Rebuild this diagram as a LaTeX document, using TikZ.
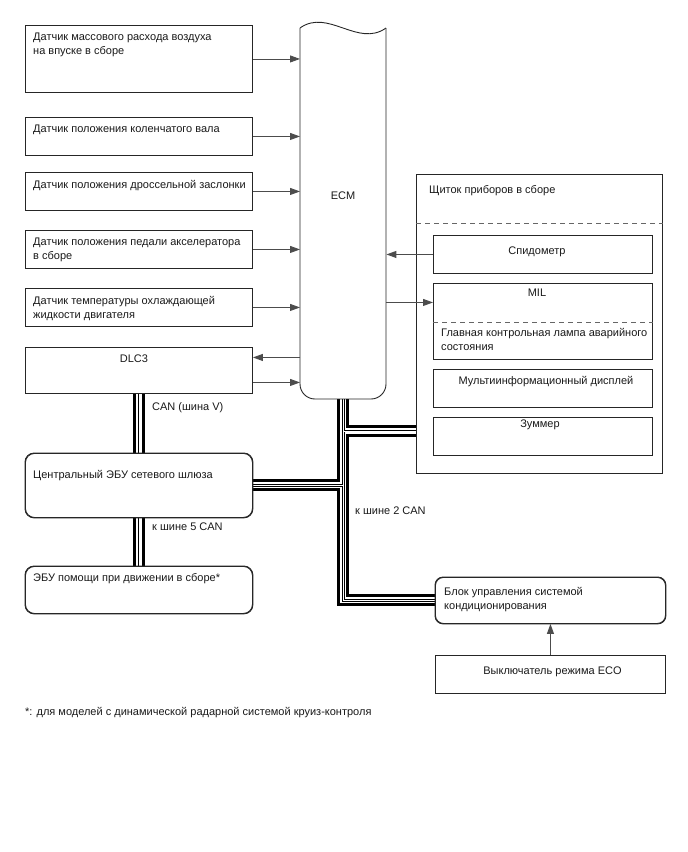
\documentclass[tikz,border=0pt]{standalone}
\usepackage{fontspec}
\setmainfont{Liberation Sans}
\usetikzlibrary{arrows.meta,calc}
\newcommand\myfs{\fontsize{11}{14}\selectfont}
\begin{document}
\begin{tikzpicture}[x=1pt,y=-1pt,
  box/.style={draw=black!85, line width=0.9pt, anchor=north west, inner sep=0pt},
  rbox/.style={box, rounded corners=9pt},
  txt/.style={anchor=north west, inner sep=0pt, align=left, font=\myfs, text=black!90},
  ctxt/.style={anchor=north, inner sep=0pt, align=center, font=\myfs, text=black!90},
  arr/.style={draw=black!70, line width=0.9pt, -{Triangle[length=10pt,width=7pt]}},
  dashline/.style={draw=black!60, line width=0.8pt, dash pattern=on 5pt off 4pt},
  border/.style={draw=black!85, line width=0.9pt},
]
\path[use as bounding box] (0,0) rectangle (688,852);

% ECM (invisible anchor node)
\node[anchor=north west, inner sep=0pt, minimum width=86, minimum height=371] (ecm) at (300,28) {};

% boxes (positions only)
\node[box, minimum width=227, minimum height=67] (b1) at (25,25) {};
\node[box, minimum width=227, minimum height=38] (b2) at (25,117) {};
\node[box, minimum width=227, minimum height=38] (b3) at (25,172) {};
\node[box, minimum width=227, minimum height=38] (b4) at (25,230) {};
\node[box, minimum width=227, minimum height=38] (b5) at (25,288) {};
\node[box, minimum width=227, minimum height=46] (dlc) at (25,347) {};
\node[rbox, minimum width=227, minimum height=64] (gw) at (25,453) {};
\node[rbox, minimum width=227, minimum height=47] (das) at (25,566) {};
\node[box, minimum width=246, minimum height=299] (cl) at (416,174) {};
\node[box, minimum width=219, minimum height=38] (spd) at (433,235) {};
\node[box, minimum width=219, minimum height=76] (mil) at (433,283) {};
\node[box, minimum width=219, minimum height=38] (mid) at (433,369) {};
\node[box, minimum width=219, minimum height=38] (buz) at (433,417) {};
\node[rbox, rounded corners=8pt, minimum width=230, minimum height=46] (ac) at (435,577) {};
\node[box, minimum width=230, minimum height=38] (eco) at (435,655) {};

% CAN bus network (drawn in layers)
\coordinate (clin) at (416,431);
\newcommand\busnet[1]{%
  \draw[#1] (dlc.south) -- (gw.north);
  \draw[#1] (gw.south) -- (das.north);
  \draw[#1] (ecm.south) |- (ac.west);
  \draw[#1] (gw.east) -- (gw.east -| ecm.south);
  \draw[#1] (clin -| ecm.south) -- (clin);
}
\busnet{draw=black, line width=12pt}
\busnet{draw=white, line width=6pt}
\busnet{draw=black, line width=2.6pt}
\busnet{draw=white, line width=0.8pt}

% redraw box borders on top of bus ends
\foreach \n in {dlc,cl} {\draw[border] (\n.south west) rectangle (\n.north east);}
\draw[border, rounded corners=9pt] (gw.south west) rectangle (gw.north east);
\draw[border, rounded corners=9pt] (das.south west) rectangle (das.north east);
\draw[border, rounded corners=8pt] (ac.south west) rectangle (ac.north east);

% ECM shape
\draw[border] (300,28) .. controls (328,8) and (358,48) .. (386,28);
\draw[border, rounded corners=15pt] (386,28) -- (386,399) -- (300,399) -- (300,28);
\node[font=\myfs, text=black!90, inner sep=0pt] (ecmt) at (343,196) {ECM};

% dashed lines in cluster
\draw[dashline] (cl.west |- 0,223) -- (cl.east |- 0,223);
\draw[dashline] (mil.west |- 0,322) -- (mil.east |- 0,322);

% texts
\node[txt] (t1) at ($(b1.north west)+(8,8)$) {Датчик массового расхода воздуха\\на впуске в сборе};
\node[txt] (t2) at ($(b2.north west)+(8,8)$) {Датчик положения коленчатого вала};
\node[txt] (t3) at ($(b3.north west)+(8,8)$) {Датчик положения дроссельной заслонки};
\node[txt] (t4) at ($(b4.north west)+(8,8)$) {Датчик положения педали акселератора\\в сборе};
\node[txt] (t5) at ($(b5.north west)+(8,8)$) {Датчик температуры охлаждающей\\жидкости двигателя};
\node[ctxt] (tdlc) at ($(dlc.north)+(-5,8)$) {DLC3};
\node[txt] (tgw) at ($(gw.north west)+(8,17)$) {Центральный ЭБУ сетевого шлюза};
\node[txt] (tdas) at ($(das.north west)+(8,7)$) {ЭБУ помощи при движении в сборе*};
\node[txt] (tcl) at ($(cl.north west)+(13,11.5)$) {Щиток приборов в сборе};
\node[ctxt] (tspd) at ($(spd.north)+(-6,11.5)$) {Спидометр};
\node[ctxt] (tmil) at ($(mil.north)+(-6,5.5)$) {MIL};
\node[txt] (tmw) at (441,328) {Главная контрольная лампа аварийного\\состояния};
\node[ctxt] (tmid) at ($(mid.north)+(3,7.5)$) {Мультиинформационный дисплей};
\node[ctxt] (tbuz) at ($(buz.north)+(-3,3)$) {Зуммер};
\node[txt] (tac) at ($(ac.north west)+(9,10.5)$) {Блок управления системой\\кондиционирования};
\node[ctxt] (teco) at ($(eco.north)+(2,11.5)$) {Выключатель режима ECO};
\node[txt] (lcanv) at (152,402) {CAN (шина V)};
\node[txt] (lcan5) at (152,523) {к шине 5 CAN};
\node[txt] (lcan2) at (355,507) {к шине 2 CAN};
\node[txt] (fn) at (25,707) {*: для моделей с динамической радарной системой круиз-контроля};

% arrows
\foreach \b in {b1,b2,b3,b4,b5} {\draw[arr] (\b.east) -- (\b.east -| ecm.west);}
\coordinate (d1) at ([yshift=13pt]dlc.east);
\coordinate (d2) at ([yshift=-12pt]dlc.east);
\draw[arr] (d1 -| ecm.west) -- (d1);
\draw[arr] (d2) -- (d2 -| ecm.west);
\draw[arr] (spd.west) -- (spd.west -| ecm.east);
\coordinate (milu) at ([yshift=19pt]mil.west);
\draw[arr] (milu -| ecm.east) -- (milu);
\draw[arr] (eco.north) -- (ac.south);
\end{tikzpicture}
\end{document}
